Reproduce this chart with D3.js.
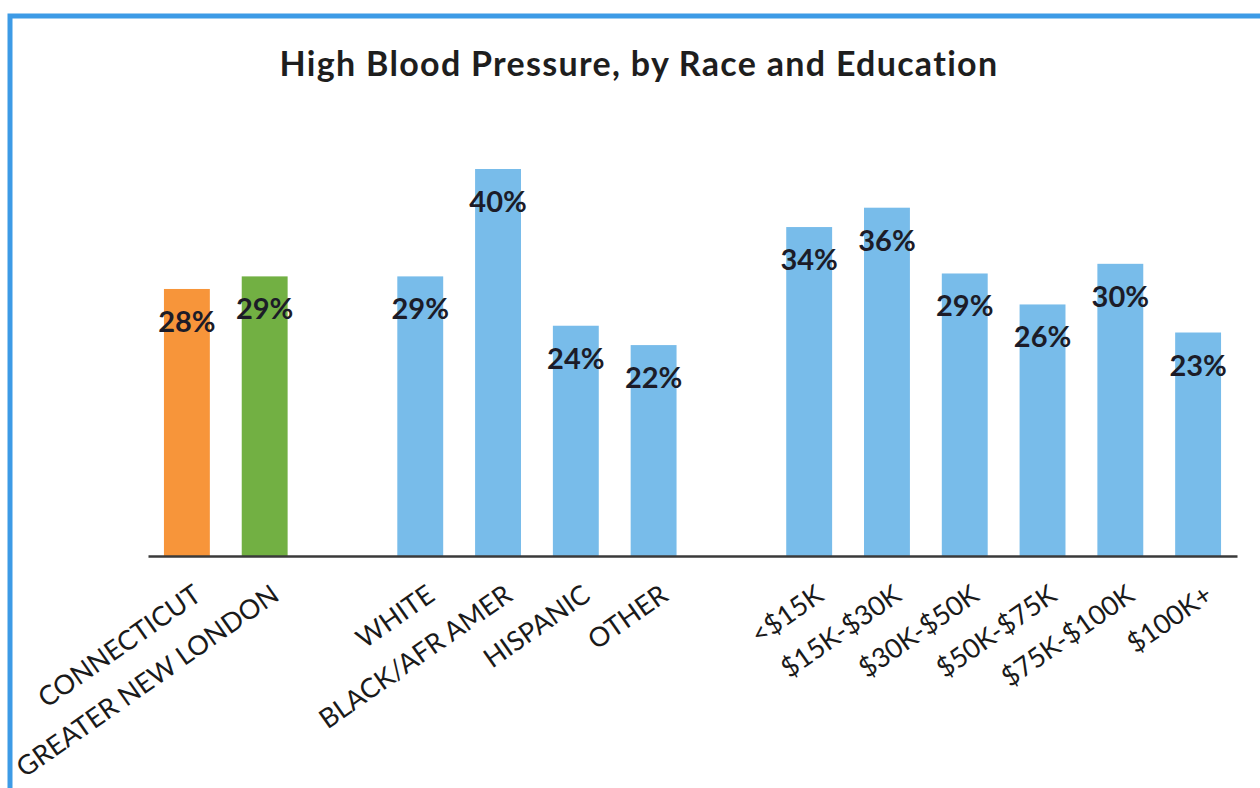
<!DOCTYPE html>
<html>
<head>
<meta charset="utf-8">
<script src="https://cdn.jsdelivr.net/npm/d3@7"></script>
<style>
  html, body { margin: 0; padding: 0; background: #ffffff; }
  svg { display: block; }
  text { font-variant-ligatures: none; }
</style>
</head>
<body>
<svg id="chart" width="1260" height="788"></svg>
<script>
// ---------- data ----------
const title = "High Blood Pressure, by Race and Education";
const categories = ["CONNECTICUT", "GREATER NEW LONDON",
  "WHITE", "BLACK/AFR AMER", "HISPANIC", "OTHER",
  "<$15K", "$15K-$30K", "$30K-$50K", "$50K-$75K", "$75K-$100K", "$100K+"];
const groups = ["state", "region",
  "race", "race", "race", "race",
  "income", "income", "income", "income", "income", "income"];
const values = [27.6, 28.9, 28.9, 40.0, 23.8, 21.8, 34.0, 36.0, 29.2, 26.0, 30.2, 23.1];
const valueLabels = ["28%", "29%", "29%", "40%", "24%", "22%", "34%", "36%", "29%", "26%", "30%", "23%"];

// ---------- style ----------
const groupColor = { state: "#F7953A", region: "#72B043", race: "#78BCEA", income: "#78BCEA" };
const fontFamily = "Lato, 'Open Sans', sans-serif";

const svg = d3.select("#chart");

// slots: categories with an empty slot between groups
const slots = [];
categories.forEach((c, i) => {
  if (i > 0 && groups[i] !== groups[i - 1] && !(groups[i - 1] === "state" && groups[i] === "region")) {
    slots.push("__gap" + i);
  }
  slots.push(c);
});

const baseY = 556;
const x = d3.scaleBand().domain(slots).range([148, 1237]).paddingInner(0.41).paddingOuter(0.205);
const y = d3.scaleLinear().domain([0, 40]).range([baseY, 169]);

// frame
svg.append("rect")
  .attr("x", 10).attr("y", 16)
  .attr("width", 1400).attr("height", 900)
  .attr("fill", "none")
  .attr("stroke", "#3D9BE6")
  .attr("stroke-width", 5);

// title
svg.append("text")
  .attr("x", 639).attr("y", 76)
  .attr("text-anchor", "middle")
  .attr("font-family", fontFamily)
  .attr("font-weight", 700)
  .attr("font-size", 34)
  .attr("letter-spacing", 1.3)
  .attr("fill", "#1e1e1e")
  .text(title);

// bars
const data = categories.map((c, i) => ({ c, v: values[i], g: groups[i], label: valueLabels[i] }));

svg.append("g").selectAll("rect")
  .data(data)
  .join("rect")
  .attr("x", d => x(d.c))
  .attr("y", d => y(d.v))
  .attr("width", x.bandwidth())
  .attr("height", d => y(0) - y(d.v))
  .attr("fill", d => groupColor[d.g]);

// value labels
svg.append("g").selectAll("text")
  .data(data)
  .join("text")
  .attr("x", d => x(d.c) + x.bandwidth() / 2)
  .attr("y", d => y(d.v) + 43)
  .attr("text-anchor", "middle")
  .attr("font-family", fontFamily)
  .attr("font-weight", 700)
  .attr("font-size", 29)
  .attr("fill", "#1c1c28")
  .text(d => d.label);

// axis
const axis = d3.axisBottom(x).tickValues(categories).tickSize(0).tickSizeOuter(0);
const gx = svg.append("g")
  .attr("transform", `translate(0,${baseY})`)
  .call(axis);
gx.attr("font-family", fontFamily).attr("font-size", 27);
gx.select(".domain").attr("stroke", "#3a3a3a").attr("stroke-width", 2.5);
gx.selectAll(".tick text")
  .attr("fill", "#1a1a1a")
  .attr("text-anchor", "end")
  .attr("x", 0).attr("y", 0)
  .attr("dy", "0.72em")
  .attr("transform", "translate(5,27) rotate(-35)");
</script>
</body>
</html>
